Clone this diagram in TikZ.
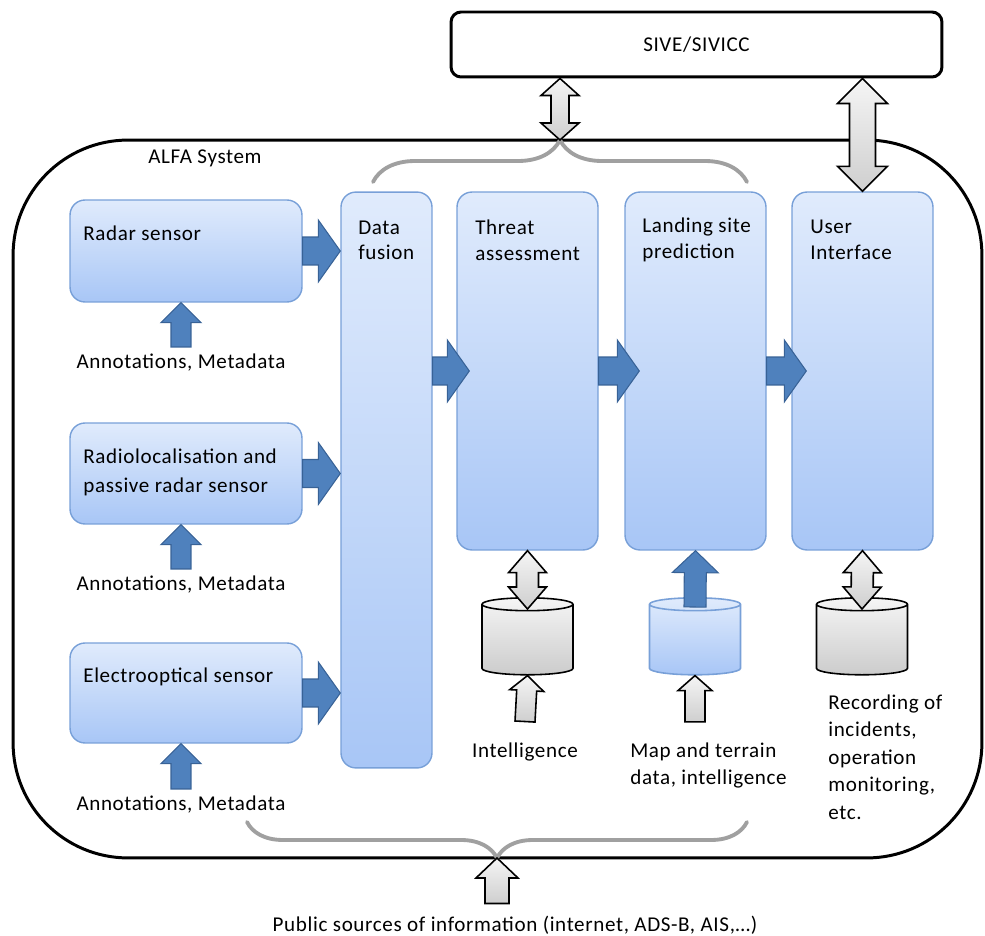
\documentclass[tikz,border=0pt]{standalone}
\usepackage{fontspec}
\setmainfont{Carlito}[LetterSpace=3]
\usetikzlibrary{calc,positioning,shapes.geometric,decorations.pathreplacing}
\tikzset{>=stealth}
\definecolor{boxtop}{RGB}{224,235,252}
\definecolor{boxbot}{RGB}{168,198,246}
\definecolor{boxline}{RGB}{120,160,216}
\definecolor{arrblue}{RGB}{79,129,189}
\definecolor{arrline}{RGB}{56,98,150}
\definecolor{bracegray}{RGB}{160,160,160}

\tikzset{
  txt/.style={font=\fontsize{12}{15}\selectfont, inner sep=0pt, align=left},
  blkbox/.style={draw=boxline, line width=0.8pt, rounded corners=0.3cm, top color=boxtop, bottom color=boxbot},
  fat/.style n args={3}{to path={let \p1=($(\tikztotarget)!#3!(\tikztostart)$) in
      ($(\tikztostart)!#1!90:(\tikztotarget)$) -- ($(\p1)!#1!-90:(\tikztostart)$)
      -- ($(\p1)!#2!-90:(\tikztostart)$) -- (\tikztotarget)
      -- ($(\p1)!#2!90:(\tikztostart)$) -- ($(\p1)!#1!90:(\tikztostart)$)
      -- ($(\tikztostart)!#1!-90:(\tikztotarget)$) -- cycle}},
  fatboth/.style n args={3}{to path={let \p1=($(\tikztostart)!#3!(\tikztotarget)$), \p2=($(\tikztotarget)!#3!(\tikztostart)$) in
      (\tikztostart) -- ($(\p1)!#2!90:(\tikztotarget)$) -- ($(\p1)!#1!90:(\tikztotarget)$)
      -- ($(\p2)!#1!-90:(\tikztostart)$) -- ($(\p2)!#2!-90:(\tikztostart)$) -- (\tikztotarget)
      -- ($(\p2)!#2!90:(\tikztostart)$) -- ($(\p2)!#1!90:(\tikztostart)$)
      -- ($(\p1)!#1!-90:(\tikztotarget)$) -- ($(\p1)!#2!-90:(\tikztotarget)$) -- cycle}},
  bluearr/.style={fill=arrblue, draw=arrline, line width=0.6pt},
  grayarr/.style={top color=gray!8, bottom color=gray!38, draw=black, line width=0.9pt},
  can/.style={cylinder, shape border rotate=90, aspect=1.1, draw=black, line width=0.9pt,
    minimum width=1.82cm, minimum height=1.54cm, top color=gray!8, bottom color=gray!40},
  curly/.style={decorate, draw=bracegray, line width=2.2pt, line cap=round},
}

\begin{document}
\begin{tikzpicture}[x=0.02cm, y=-0.02cm]
\useasboundingbox (0,0) rectangle (985,936);

% frames
\node (alfa) [draw, line width=1.7pt, rounded corners=2.3cm, minimum width=19.38cm, minimum height=14.36cm] at (497.5,499) {};
\node[txt] at (205,158) {ALFA System};
\node (sive) [draw, line width=1.7pt, rounded corners=0.2cm, minimum width=9.82cm, minimum height=1.3cm] at (696.5,44.5) {};
\node[txt] at (sive.center) {SIVE/SIVICC};

% sensors
\node (radar) [blkbox, minimum width=4.64cm, minimum height=2.04cm] at (186,251) {};
\node (radio) [blkbox, minimum width=4.64cm, minimum height=2.02cm] at (186,473.5) {};
\node (eo) [blkbox, minimum width=4.64cm, minimum height=2cm] at (186,693) {};
\node[txt, anchor=west] at (83,233) {Radar sensor};
\node[txt, anchor=west, font=\fontsize{12}{16.5}\selectfont] at (83,472.5) {Radiolocalisation and\\passive radar sensor};
\node[txt, anchor=west] at (83,677) {Electrooptical sensor};
\node (ann1) [txt] at (181,363) {Annotations, Metadata};
\node (ann2) [txt] at (181,585) {Annotations, Metadata};
\node (ann3) [txt] at (181,805) {Annotations, Metadata};

% processing chain
\node (fusion) [blkbox, minimum width=1.82cm, minimum height=11.52cm] at (386.5,480) {};
\node (threat) [blkbox, minimum width=2.82cm, minimum height=7.16cm] at (527.5,371) {};
\node (landing) [blkbox, minimum width=2.82cm, minimum height=7.16cm] at (695.5,371) {};
\node (ui) [blkbox, minimum width=2.82cm, minimum height=7.16cm] at (862.5,371) {};
\node[txt, anchor=west, font=\fontsize{12}{14.2}\selectfont] at (358,240.5) {Data\\fusion};
\node[txt, anchor=west] at (475,240) {Threat\\assessment};
\node[txt, anchor=west] at (642,240) {Landing site\\prediction};
\node[txt, anchor=west] at (810,240) {User\\Interface};

% databases
\node (intel) [can] at (527.5,641.5) {};
\node (map) [can, draw=boxline, top color=boxtop, bottom color=boxbot] at (695,641.5) {};
\node (rec) [can] at (862,641.5) {};
\node (intellbl) [txt] at (525,752) {Intelligence};
\node (maplbl) [txt, anchor=west] at (630,765.5) {Map and terrain\\data, intelligence};
\node[txt, anchor=west, font=\fontsize{12}{15.6}\selectfont] at (828,757) {Recording of\\incidents,\\operation\\monitoring,\\etc.};
\node (pub) [txt] at (515,925) {Public sources of information (internet, ADS-B, AIS,\dots)};

% braces
\coordinate (toptip) at (560,140);
\coordinate (bottip) at (497,858);
\draw[curly, decoration={brace, amplitude=0.84cm}] (373,182) -- (747,182);
\draw[curly, decoration={brace, amplitude=0.72cm}] (747,822) -- (247,822);

% blue arrows
\draw[bluearr, fat={0.28cm}{0.62cm}{0.44cm}] (radar.east) to (fusion.west |- radar.east);
\draw[bluearr, fat={0.28cm}{0.62cm}{0.44cm}] (radio.east) to (fusion.west |- radio.east);
\draw[bluearr, fat={0.28cm}{0.62cm}{0.44cm}] (eo.east) to (fusion.west |- eo.east);
\draw[bluearr, fat={0.28cm}{0.62cm}{0.44cm}] (fusion.east |- threat.west) to ([xshift=0.26cm]threat.west);
\draw[bluearr, fat={0.28cm}{0.62cm}{0.44cm}] (threat.east) to ([xshift=0.3cm]landing.west);
\draw[bluearr, fat={0.28cm}{0.62cm}{0.44cm}] (landing.east) to ([xshift=0.3cm]ui.west);
\draw[bluearr, fat={0.2cm}{0.4cm}{0.4cm}] ([yshift=0.14cm]ann1.north) to (ann1.north |- radar.south);
\draw[bluearr, fat={0.2cm}{0.4cm}{0.4cm}] ([yshift=0.14cm]ann2.north) to (ann2.north |- radio.south);
\draw[bluearr, fat={0.2cm}{0.4cm}{0.4cm}] ([yshift=0.14cm]ann3.north) to (ann3.north |- eo.south);
\draw[bluearr, fat={0.22cm}{0.46cm}{0.44cm}] ([yshift=-0.2cm]map.north) to (landing.south);

% grey arrows
\draw[grayarr, fatboth={0.18cm}{0.38cm}{0.34cm}] (sive.south -| toptip) to (toptip);
\draw[grayarr, fatboth={0.26cm}{0.5cm}{0.5cm}] (sive.south -| ui.north) to (ui.north);
\draw[grayarr, fatboth={0.22cm}{0.38cm}{0.44cm}] (threat.south) to ([yshift=-0.24cm]intel.north);
\draw[grayarr, fatboth={0.22cm}{0.38cm}{0.44cm}] (ui.south) to ([yshift=-0.24cm]rec.north);
\draw[grayarr, fat={0.2cm}{0.34cm}{0.3cm}] ([yshift=0.42cm]intellbl.north) to (intel.south);
\draw[grayarr, fat={0.2cm}{0.34cm}{0.3cm}] ([yshift=0.42cm]maplbl.north -| map.south) to (map.south);
\draw[grayarr, fat={0.24cm}{0.42cm}{0.4cm}] ([yshift=0.24cm]pub.north -| bottip) to (bottip);
\end{tikzpicture}
\end{document}
